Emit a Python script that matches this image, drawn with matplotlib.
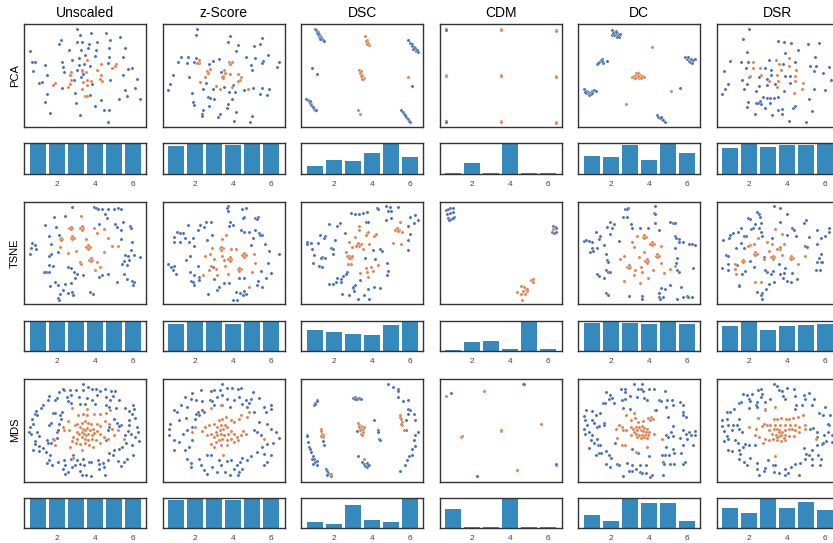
import numpy as np
import matplotlib
matplotlib.use('Agg')
import matplotlib.pyplot as plt

plt.rcParams['font.family'] = ['Liberation Sans', 'DejaVu Sans']

methods = ['Unscaled', 'z-Score', 'DSC', 'CDM', 'DC', 'DSR']
projections = ['PCA', 'TSNE', 'MDS']
groups = [1, 2, 3, 4, 5, 6]

# embedding coordinates, class 0 (blue) and class 1 (orange)
pca_unscaled_0 = [(159,292),(167,276),(200,281),(245,280),(285,269),(110,259),(105,249),(159,253),(173,255),(194,247),(219,255),(257,259),(18,227),(134,229),(170,229),(190,237),(214,229),(253,235),(300,235),(22,195),(31,193),(63,185),(113,193),(142,201),(163,205),(183,215),(212,213),(252,210),(296,209),(117,179),(163,185),(178,189),(197,183),(250,191),(27,166),(119,164),(159,169),(173,167),(311,174),(322,177),(68,154),(169,149),(296,155),(43,132),(54,134),(148,139),(203,129),(257,139),(336,142),(114,116),(332,116),(67,99),(300,110),(197,94),(306,92),(347,82),(62,74),(155,72),(228,81),(283,83),(213,61),(237,50),(254,50),(78,40),(168,35),(250,14),(152,100),(175,158)]
pca_unscaled_1 = [(189,200),(230,187),(275,188),(271,183),(263,175),(219,170),(173,171),(186,163),(141,163),(136,155),(228,154),(225,142),(231,137),(188,140),(177,134),(140,140),(138,129),(91,131),(85,125),(132,120),(187,124),(201,137),(174,112),(181,92),(189,93)]
pca_zscore_0 = [(103,293),(98,276),(200,271),(296,265),(195,253),(291,249),(226,244),(273,241),(220,228),(314,215),(348,195),(341,180),(53,210),(74,208),(46,193),(99,207),(94,193),(151,197),(169,202),(250,209),(276,205),(300,197),(297,190),(263,184),(267,170),(71,192),(137,188),(175,164),(32,154),(79,148),(22,127),(17,110),(130,132),(119,113),(149,113),(178,148),(183,120),(210,124),(215,105),(243,110),(271,115),(296,115),(319,113),(290,98),(312,96),(88,101),(134,89),(140,85),(199,104),(91,74),(92,64),(139,62),(194,67),(191,55),(121,49),(118,39),(117,32),(170,37),(164,28),(219,43),(266,32),(213,18),(261,14),(154,82),(207,84)]
pca_zscore_1 = [(107,199),(109,191),(103,192),(198,194),(206,194),(202,187),(141,173),(133,168),(135,160),(183,170),(185,160),(181,152),(179,145),(201,158),(226,159),(233,150),(231,140),(225,136),(111,134),(160,122),(172,112),(207,118),(256,112),(127,149)]
pca_dsc_0 = [(40,292),(44,289),(46,285),(48,281),(51,283),(52,277),(54,274),(53,270),(56,272),(58,268),(60,266),(62,264),(64,261),(67,258),(57,263),(49,278),(320,259),(326,252),(330,248),(332,242),(336,238),(338,232),(342,230),(344,226),(348,223),(340,235),(334,233),(346,229),(32,177),(46,159),(332,123),(15,84),(20,80),(23,76),(25,72),(28,68),(30,64),(32,62),(34,58),(38,54),(42,50),(45,49),(26,78),(36,60),(298,51),(304,44),(308,38),(313,30),(318,23),(322,18),(326,14),(310,34)]
pca_dsc_1 = [(190,272),(196,260),(200,252),(194,256),(202,246),(198,248),(173,170),(178,167),(176,160),(182,156),(184,150),(188,147),(180,152),(186,142),(182,144),(318,149),(171,50),(176,37)]
pca_cdm_0 = [(18,292),(19,290),(348,291),(18,16),(19,14),(348,14)]
pca_cdm_1 = [(183,292),(183,290),(347,290),(349,288),(18,154),(19,152),(183,154),(182,152),(184,153),(348,151),(347,149),(183,16),(183,14),(182,15),(348,13),(349,12)]
pca_dc_0 = [(102,290),(107,285),(112,288),(117,282),(110,280),(114,276),(120,274),(124,278),(100,276),(107,274),(117,270),(122,268),(112,283),(105,281),(57,188),(62,195),(67,200),(72,204),(74,192),(86,197),(60,190),(70,197),(318,208),(324,202),(330,198),(336,204),(342,200),(348,202),(334,194),(327,210),(340,192),(17,112),(22,108),(28,105),(34,102),(40,108),(46,110),(52,106),(32,95),(38,97),(24,100),(42,100),(20,105),(305,117),(234,35),(239,30),(244,26),(249,23),(254,19),(259,14),(246,28)]
pca_dc_1 = [(221,239),(162,150),(168,152),(174,155),(180,158),(186,154),(192,151),(198,150),(176,148),(182,145),(172,160),(178,162),(184,150),(170,147),(188,147),(180,152),(277,106),(142,67)]
pca_dsr_0 = [(95,292),(78,262),(183,257),(200,255),(221,251),(274,249),(305,251),(242,229),(89,223),(204,220),(295,210),(40,196),(72,193),(93,194),(155,199),(198,187),(233,193),(278,181),(297,183),(291,168),(319,162),(335,180),(23,166),(86,176),(145,175),(163,169),(163,154),(95,150),(75,139),(125,148),(150,142),(203,152),(218,153),(341,140),(34,127),(90,128),(126,122),(149,126),(175,129),(220,130),(26,113),(81,112),(118,106),(200,107),(292,113),(324,110),(17,97),(139,90),(149,87),(159,87),(171,87),(183,89),(275,83),(92,75),(116,71),(123,70),(129,76),(131,67),(90,58),(143,56),(182,50),(196,54),(227,57),(235,63),(286,46),(113,37),(165,35),(196,37),(217,16),(268,14),(159,70)]
pca_dsr_1 = [(109,194),(109,176),(129,175),(98,152),(131,155),(178,199),(185,187),(215,206),(215,182),(192,169),(238,169),(181,155),(235,152),(156,136),(182,138),(235,136),(257,130),(179,118),(255,114),(232,100)]

tsne_unscaled_0 = [(144,292),(210,292),(215,289),(220,285),(232,284),(249,285),(267,285),(279,287),(290,286),(90,262),(121,263),(240,270),(247,257),(63,236),(95,232),(224,239),(270,239),(294,245),(277,232),(290,223),(315,235),(320,229),(75,205),(105,207),(288,194),(321,187),(23,183),(33,177),(21,168),(34,165),(17,151),(81,179),(319,161),(101,157),(79,149),(73,143),(302,146),(310,145),(327,146),(347,140),(299,130),(314,131),(293,120),(307,117),(75,117),(85,113),(130,110),(139,107),(58,97),(64,97),(74,95),(148,97),(159,91),(175,86),(151,77),(233,87),(250,91),(222,81),(298,89),(307,76),(322,68),(325,57),(328,67),(277,67),(93,67),(121,61),(140,64),(77,54),(102,57),(115,44),(130,35),(143,37),(145,27),(107,31),(102,19),(105,13),(196,38),(205,30)]
tsne_unscaled_1 = [(169,264),(139,228),(172,228),(209,229),(239,225),(110,195),(144,199),(186,194),(219,212),(251,197),(108,172),(191,171),(154,159),(132,154),(238,155),(261,175),(281,174),(168,125),(169,119),(199,133),(217,127),(227,110),(213,101),(167,228),(177,228),(172,233),(172,223),(139,199),(149,199),(144,204),(144,194),(186,171),(196,171),(191,176),(191,166),(194,133),(204,133),(199,138),(199,128),(106,195),(114,195),(110,199),(110,191),(135,228),(143,228),(139,232),(139,224)]
tsne_zscore_0 = [(194,295),(191,287),(194,279),(236,285),(250,287),(243,262),(239,257),(275,257),(286,260),(281,254),(76,237),(112,236),(128,247),(143,245),(201,247),(198,233),(209,238),(41,216),(50,212),(61,214),(105,221),(123,232),(233,221),(243,217),(257,217),(275,221),(288,213),(298,207),(290,207),(34,202),(34,187),(50,187),(66,197),(79,187),(90,197),(94,173),(133,192),(147,207),(269,197),(306,181),(264,176),(317,159),(347,151),(80,145),(69,131),(17,120),(26,112),(33,115),(32,102),(38,89),(104,114),(316,122),(81,95),(92,87),(109,82),(108,72),(150,112),(83,69),(93,59),(91,65),(153,74),(182,62),(199,63),(167,51),(161,44),(228,77),(244,77),(293,99),(323,92),(309,79),(286,69),(282,59),(296,52),(134,32),(219,37),(231,34),(244,39),(248,30),(241,29),(211,14),(223,14)]
tsne_zscore_1 = [(177,194),(189,207),(175,167),(203,164),(219,164),(148,167),(125,143),(142,149),(178,144),(200,135),(243,147),(273,150),(154,134),(184,132),(143,114),(160,105),(186,115),(229,104),(267,95),(276,124),(119,87),(138,103),(161,87),(195,89),(257,53),(170,167),(180,167),(175,172),(175,162),(195,135),(205,135),(200,140),(200,130),(238,147),(248,147),(243,152),(243,142),(224,104),(234,104),(229,109),(229,99)]
tsne_dsc_0 = [(226,289),(230,285),(254,293),(266,292),(290,291),(258,279),(268,280),(148,272),(160,271),(172,271),(184,274),(196,275),(268,259),(254,251),(326,260),(340,267),(350,252),(336,243),(84,239),(106,233),(116,243),(194,246),(200,245),(130,213),(320,233),(324,211),(320,191),(318,163),(56,206),(70,203),(68,197),(50,184),(18,185),(16,181),(28,182),(102,192),(32,165),(88,169),(96,164),(94,151),(38,147),(61,140),(70,138),(58,137),(190,139),(219,135),(216,162),(236,164),(240,159),(34,123),(54,114),(61,111),(256,122),(258,99),(256,87),(138,95),(135,89),(126,85),(108,77),(118,75),(103,65),(94,60),(84,60),(120,65),(176,71),(160,57),(154,48),(158,40),(155,52),(200,47),(218,52),(236,49),(123,31),(144,27),(170,15),(188,29),(204,15)]
tsne_dsc_1 = [(294,246),(286,227),(293,223),(280,223),(300,215),(288,220),(173,233),(174,221),(196,212),(200,217),(220,207),(224,211),(194,207),(218,203),(160,202),(202,181),(274,182),(298,181),(143,185),(153,171),(168,179),(174,175),(164,173),(178,179),(171,183),(186,165),(133,155),(138,143),(144,145),(148,139),(152,143),(142,137),(140,120),(148,120),(194,107),(210,112),(230,116),(198,95),(200,82),(176,92),(216,99)]
tsne_cdm_0 = [(18,282),(24,285),(32,289),(38,287),(22,269),(30,272),(40,277),(26,259),(34,255),(42,262),(28,251),(38,257),(338,235),(344,231),(348,229),(336,217),(342,212),(348,215)]
tsne_cdm_1 = [(340,225),(274,73),(280,67),(278,75),(244,55),(252,51),(258,47),(248,41),(260,39),(230,37),(244,31),(256,31),(246,14),(262,45)]
tsne_dc_0 = [(140,286),(150,287),(146,285),(228,293),(227,273),(228,269),(134,260),(146,260),(96,245),(108,241),(86,232),(102,227),(158,241),(160,229),(185,229),(208,229),(275,245),(282,244),(290,243),(228,243),(240,221),(52,217),(66,205),(96,211),(62,195),(290,205),(292,197),(300,195),(302,187),(17,189),(24,192),(32,189),(42,185),(78,177),(122,189),(56,167),(41,169),(34,155),(44,159),(290,169),(314,187),(330,180),(340,179),(350,177),(84,149),(294,139),(86,132),(88,125),(292,124),(82,102),(88,95),(96,95),(56,91),(62,85),(296,102),(302,97),(342,107),(78,79),(274,57),(308,53),(246,49),(258,47),(240,34),(82,35),(90,27),(152,25),(190,25),(192,17),(242,21),(244,15),(254,21),(296,17),(312,23),(324,25),(328,21),(340,23)]
tsne_dc_1 = [(176,204),(198,202),(220,181),(248,173),(160,185),(168,170),(136,145),(124,135),(182,140),(196,155),(236,145),(205,129),(248,124),(224,102),(255,94),(274,106),(290,115),(151,112),(169,102),(192,97),(167,87),(210,77),(137,69),(184,64),(188,112),(215,181),(225,181),(220,186),(220,176),(231,145),(241,145),(236,150),(236,140),(200,129),(210,129),(205,134),(205,124),(146,112),(156,112),(151,117),(151,107),(194,202),(202,202),(198,206),(198,198)]
tsne_dsr_0 = [(170,293),(190,289),(119,275),(125,269),(130,260),(93,259),(98,255),(211,269),(267,252),(261,243),(113,241),(131,244),(188,245),(73,227),(101,224),(108,227),(127,229),(225,229),(231,221),(300,223),(38,207),(48,213),(63,215),(80,205),(86,203),(132,215),(136,205),(165,197),(209,207),(238,203),(275,201),(313,197),(323,205),(335,215),(337,227),(19,193),(37,199),(71,182),(81,167),(265,175),(269,171),(300,179),(57,167),(313,149),(307,139),(29,147),(35,143),(141,142),(185,121),(100,129),(111,112),(16,107),(34,119),(61,117),(143,103),(151,95),(163,89),(167,99),(205,109),(189,89),(297,101),(309,102),(311,127),(300,127),(315,127),(35,102),(85,100),(75,91),(202,92),(225,93),(197,77),(209,69),(223,67),(239,74),(171,67),(157,61),(66,59),(65,55),(120,38),(134,35),(133,27),(135,17),(148,45)]
tsne_dsr_1 = [(123,197),(100,177),(112,181),(151,185),(166,179),(175,224),(195,209),(200,181),(185,168),(190,164),(115,151),(140,134),(167,140),(156,159),(195,147),(223,139),(243,120),(263,145),(78,129),(53,121),(54,105),(57,89),(113,66),(131,67),(94,174),(181,166),(189,170),(110,151),(120,151),(115,156),(115,146),(162,140),(172,140),(167,145),(167,135),(218,139),(228,139),(223,144),(223,134),(74,129),(82,129),(78,133),(78,125)]

mds_unscaled_0 = [(177,291),(190,283),(177,273),(155,275),(137,275),(119,273),(103,268),(115,276),(202,276),(214,278),(227,271),(242,276),(259,270),(270,271),(75,256),(97,251),(127,253),(140,258),(164,253),(188,250),(202,245),(217,258),(245,253),(265,255),(283,243),(257,245),(91,243),(72,245),(51,220),(35,211),(57,228),(130,240),(140,236),(167,233),(182,233),(212,231),(244,230),(253,224),(274,220),(302,220),(325,228),(327,216),(312,211),(31,203),(39,198),(22,188),(27,173),(17,163),(14,148),(19,142),(37,148),(43,137),(33,121),(32,111),(27,93),(43,92),(45,107),(67,123),(72,116),(79,116),(87,128),(97,130),(97,148),(102,153),(105,173),(74,168),(79,176),(107,198),(110,188),(87,206),(92,205),(113,208),(322,203),(332,190),(313,183),(314,170),(337,162),(341,148),(332,134),(342,122),(309,152),(319,143),(302,140),(289,170),(267,186),(277,176),(282,166),(252,163),(249,153),(243,123),(323,108),(305,116),(292,103),(282,98),(267,93),(265,78),(252,86),(249,63),(234,55),(325,80),(307,68),(297,58),(279,61),(289,46),(57,100),(64,88),(77,78),(75,63),(67,56),(84,48),(102,58),(119,65),(145,78),(139,68),(159,63),(167,53),(175,68),(195,58),(201,58),(220,64),(223,53),(179,50),(151,48),(142,43),(122,48),(115,36),(132,28),(122,23),(167,30),(174,18),(185,18),(199,16),(239,42),(242,20),(224,36)]
mds_unscaled_1 = [(189,218),(142,220),(162,198),(177,203),(189,200),(210,201),(227,203),(245,205),(257,213),(132,180),(115,163),(120,153),(134,153),(152,168),(159,173),(172,176),(182,180),(190,176),(199,171),(217,173),(227,166),(242,180),(252,173),(262,158),(279,153),(167,163),(175,158),(182,153),(189,160),(197,153),(205,158),(157,148),(165,143),(173,148),(179,143),(185,138),(192,143),(202,138),(209,146),(217,150),(227,143),(239,133),(249,128),(267,138),(299,126),(147,133),(159,128),(172,133),(182,128),(192,123),(202,126),(215,123),(225,116),(142,120),(155,116),(167,113),(182,116),(195,110),(137,103),(172,93),(207,103),(89,123),(92,110),(147,70)]
mds_zscore_0 = [(178,293),(191,280),(208,280),(225,278),(233,280),(171,273),(153,275),(143,270),(113,273),(88,266),(269,268),(65,253),(83,248),(99,243),(116,240),(140,243),(148,240),(163,253),(178,258),(193,248),(213,245),(228,253),(250,245),(265,246),(288,250),(258,236),(236,233),(53,228),(33,213),(43,208),(73,223),(100,203),(105,208),(109,198),(116,213),(123,208),(153,228),(176,230),(201,223),(253,223),(303,223),(323,228),(325,218),(308,208),(273,208),(23,173),(18,158),(19,138),(33,123),(48,118),(35,93),(66,93),(78,103),(88,123),(61,143),(73,153),(88,163),(95,188),(69,190),(48,183),(288,178),(273,153),(283,148),(293,138),(313,173),(323,158),(338,148),(348,130),(331,116),(313,113),(298,103),(283,88),(303,83),(323,78),(313,58),(303,48),(265,76),(253,65),(238,70),(231,58),(221,48),(238,38),(228,28),(71,68),(85,56),(85,43),(113,48),(123,33),(133,23),(148,43),(168,63),(173,48),(185,28),(200,18),(213,36),(225,18),(161,28),(108,68),(131,80),(145,78),(203,63),(193,60)]
mds_zscore_1 = [(145,220),(173,228),(125,163),(138,168),(153,173),(168,183),(178,188),(190,193),(203,183),(213,178),(228,188),(233,198),(253,193),(258,208),(163,163),(173,168),(185,170),(193,163),(181,158),(171,153),(158,148),(145,143),(133,138),(118,150),(88,148),(95,163),(153,133),(163,138),(173,143),(183,138),(195,143),(205,150),(213,143),(223,133),(235,138),(248,143),(158,118),(168,123),(178,126),(191,123),(203,126),(213,118),(225,123),(175,108),(193,110),(153,103),(181,80),(303,126),(239,150),(143,113)]
mds_dsc_0 = [(258,291),(275,283),(290,276),(288,270),(290,253),(304,241),(318,245),(318,218),(326,213),(338,203),(320,203),(340,183),(313,183),(313,155),(350,148),(341,138),(336,123),(340,105),(330,98),(323,76),(330,80),(316,63),(309,48),(296,30),(46,243),(42,236),(38,228),(40,233),(48,240),(18,140),(16,136),(21,118),(23,103),(26,96),(28,88),(34,76),(38,66),(32,68),(40,58),(48,60),(36,53),(46,48),(64,120),(68,108),(73,36),(78,30),(80,26),(86,23),(76,20),(90,16),(156,250),(160,253),(164,251),(168,248),(172,250),(166,246),(178,248),(162,248),(218,185),(228,153),(230,148),(233,126),(236,123),(166,151),(170,76),(183,58),(188,53),(193,50),(198,56),(203,50),(190,46),(196,43),(200,48)]
mds_dsc_1 = [(58,158),(60,150),(62,143),(64,138),(66,133),(60,136),(170,176),(174,170),(178,166),(180,160),(182,153),(184,148),(178,143),(186,158),(172,163),(176,153),(182,140),(188,162),(294,200),(296,193),(298,186),(300,178),(302,170),(298,173),(308,153),(90,22),(188,66)]
mds_cdm_0 = [(33,266),(250,292),(251,291),(347,50),(348,51),(110,15),(111,16)]
mds_cdm_1 = [(18,256),(19,257),(132,271),(133,272),(302,171),(303,172),(183,152),(184,153),(64,134),(65,135),(230,33),(231,34)]
mds_dc_0 = [(167,291),(190,291),(180,278),(187,276),(194,270),(127,276),(140,276),(140,268),(212,278),(227,276),(259,270),(82,268),(95,260),(102,251),(108,236),(92,248),(74,235),(80,236),(132,243),(140,246),(154,256),(175,253),(197,251),(207,245),(240,245),(247,240),(265,244),(280,243),(304,238),(284,230),(314,228),(262,223),(134,220),(154,218),(24,213),(42,210),(65,205),(54,198),(228,215),(232,213),(312,208),(314,198),(322,193),(17,196),(19,183),(26,168),(18,156),(20,143),(40,183),(48,176),(57,163),(62,166),(77,176),(78,170),(32,148),(42,138),(46,116),(37,123),(60,110),(66,110),(57,126),(32,100),(267,193),(282,165),(277,148),(282,136),(262,138),(268,133),(312,153),(322,143),(332,148),(348,150),(350,138),(336,140),(324,126),(304,130),(342,110),(314,108),(262,103),(282,98),(307,86),(260,80),(272,80),(286,86),(250,78),(52,80),(62,86),(67,86),(82,90),(92,78),(97,70),(96,43),(82,51),(117,53),(122,48),(147,55),(162,48),(184,50),(202,48),(252,58),(257,53),(274,53),(287,53),(314,53),(318,58),(172,38),(160,30),(152,30),(184,28),(192,25),(202,26),(220,20),(214,13),(134,16),(254,20),(212,76),(180,86),(160,96),(110,115)]
mds_dc_1 = [(144,198),(167,205),(170,190),(157,183),(180,178),(194,180),(210,190),(217,193),(222,186),(214,183),(122,168),(130,163),(114,158),(134,153),(144,153),(157,163),(165,158),(174,163),(182,163),(190,166),(198,161),(207,156),(177,153),(187,153),(194,150),(202,148),(212,148),(167,148),(174,143),(182,140),(190,138),(200,140),(210,138),(177,133),(187,130),(197,133),(207,130),(117,130),(132,110),(140,110),(207,103),(172,88),(250,126),(225,143),(157,138)]
mds_dsr_0 = [(171,293),(179,286),(185,273),(195,270),(210,280),(230,276),(123,273),(131,276),(135,263),(105,263),(77,261),(90,260),(65,236),(72,238),(50,218),(30,208),(39,208),(30,188),(15,183),(95,246),(100,240),(132,253),(119,238),(117,228),(143,238),(160,248),(197,256),(205,248),(235,256),(260,258),(263,248),(275,265),(290,246),(238,230),(235,218),(255,228),(285,228),(325,223),(305,205),(317,200),(340,198),(95,220),(120,223),(65,188),(123,190),(145,216),(15,166),(21,152),(35,170),(47,170),(61,170),(67,158),(75,148),(45,153),(31,136),(35,126),(55,125),(63,116),(83,113),(77,103),(97,108),(23,120),(113,108),(35,93),(45,90),(67,93),(70,83),(65,68),(80,58),(90,48),(100,70),(121,56),(119,38),(125,20),(140,30),(145,40),(153,63),(167,48),(173,48),(171,28),(187,26),(205,38),(212,25),(221,43),(233,53),(250,56),(247,20),(205,18),(265,68),(267,83),(277,80),(285,93),(300,108),(315,113),(285,50),(310,50),(285,66),(303,78),(313,66),(261,100),(280,158),(287,160),(301,148),(320,138),(333,148),(335,168),(332,173),(345,138),(345,118),(327,120),(300,133),(317,116)]
mds_dsr_1 = [(175,223),(143,213),(123,190),(140,173),(170,188),(180,188),(193,190),(207,188),(217,186),(229,190),(243,193),(257,198),(95,163),(117,158),(135,165),(150,168),(160,170),(175,168),(190,168),(205,170),(220,170),(233,170),(245,163),(265,170),(155,153),(170,156),(180,158),(187,153),(195,148),(205,153),(215,156),(225,158),(235,153),(245,148),(265,158),(115,138),(125,133),(165,143),(177,140),(185,136),(193,138),(205,138),(217,136),(230,136),(143,128),(155,123),(167,126),(180,123),(193,120),(205,123),(139,116),(175,76),(297,126),(185,148),(181,133),(200,130)]

# relative counts per group
pca_bars = [[1, 1, 1, 1, 1, 1],
            [0.90, 1.0, 1.0, 0.94, 0.975, 1.0],
            [0.25, 0.46, 0.42, 0.67, 1.0, 0.57],
            [0.04, 0.35, 0.03, 1.0, 0.03, 0.03],
            [0.60, 0.57, 0.93, 0.46, 1.0, 0.67],
            [0.86, 1.0, 0.89, 0.93, 0.96, 1.0]]
tsne_bars = [[1, 1, 1, 1, 1, 1],
             [0.89, 1.0, 1.0, 0.89, 0.96, 0.96],
             [0.71, 0.64, 0.57, 0.53, 0.86, 1.0],
             [0.05, 0.30, 0.33, 0.07, 1.0, 0.07],
             [0.93, 1.0, 0.93, 0.89, 0.96, 0.89],
             [0.82, 1.0, 0.71, 0.82, 0.86, 0.89]]
mds_bars = [[1, 1, 1, 1, 1, 1],
            [0.93, 1.0, 1.0, 0.93, 0.96, 1.0],
            [0.20, 0.13, 0.75, 0.28, 0.20, 1.0],
            [0.64, 0.03, 0.03, 1.0, 0.03, 0.03],
            [0.45, 0.24, 1.0, 0.82, 0.82, 0.24],
            [0.68, 0.50, 1.0, 0.68, 0.86, 0.61]]

embeddings = [
    [(pca_unscaled_0, pca_unscaled_1), (pca_zscore_0, pca_zscore_1), (pca_dsc_0, pca_dsc_1),
     (pca_cdm_0, pca_cdm_1), (pca_dc_0, pca_dc_1), (pca_dsr_0, pca_dsr_1)],
    [(tsne_unscaled_0, tsne_unscaled_1), (tsne_zscore_0, tsne_zscore_1), (tsne_dsc_0, tsne_dsc_1),
     (tsne_cdm_0, tsne_cdm_1), (tsne_dc_0, tsne_dc_1), (tsne_dsr_0, tsne_dsr_1)],
    [(mds_unscaled_0, mds_unscaled_1), (mds_zscore_0, mds_zscore_1), (mds_dsc_0, mds_dsc_1),
     (mds_cdm_0, mds_cdm_1), (mds_dc_0, mds_dc_1), (mds_dsr_0, mds_dsr_1)],
]
bar_rows = [pca_bars, tsne_bars, mds_bars]

# layout in pixels
W, H = 833, 543
col_left = [24.3, 162.8, 301.3, 439.8, 578.3, 716.8]
col_w = 122
scat_top = [24.3, 201.7, 379.0]
scat_h = 102.5
bar_top = [143.3, 320.7, 497.7]
bar_h = 30.7

def frac(left, top, w, h):
    return [left / W, 1 - (top + h) / H, w / W, h / H]

def style_spines(ax):
    for s in ax.spines.values():
        s.set_color('#333333')
        s.set_linewidth(1.0)

fig = plt.figure(figsize=(W / 100, H / 100), dpi=100)

for r, proj in enumerate(projections):
    for c, method in enumerate(methods):
        ax = fig.add_axes(frac(col_left[c], scat_top[r], col_w, scat_h))
        cls0, cls1 = embeddings[r][c]
        for pts, color in ((cls0, '#4C72B0'), (cls1, '#DD8452')):
            xy = np.array(pts, dtype=float)
            ax.scatter(xy[:, 0], xy[:, 1], s=5.5, c=color, edgecolors='white',
                       linewidths=0.2)
        ax.set_xlim(0, 365)
        ax.set_ylim(0, 307)
        ax.set_xticks([])
        ax.set_yticks([])
        style_spines(ax)
        if r == 0:
            ax.set_title(method, fontsize=10, pad=5)
        if c == 0:
            ax.set_ylabel(proj, fontsize=8, labelpad=3)

        bx = fig.add_axes(frac(col_left[c], bar_top[r], col_w, bar_h))
        vals = bar_rows[r][c]
        bx.bar(groups, vals, width=0.85, color='#348ABD')
        bx.set_ylim(0, max(vals))
        bx.set_xticks([2, 4, 6])
        bx.set_yticks([])
        bx.tick_params(axis='x', length=0, labelsize=6, colors='#444444', pad=5)
        style_spines(bx)

fig.savefig('out.png', dpi=100)
